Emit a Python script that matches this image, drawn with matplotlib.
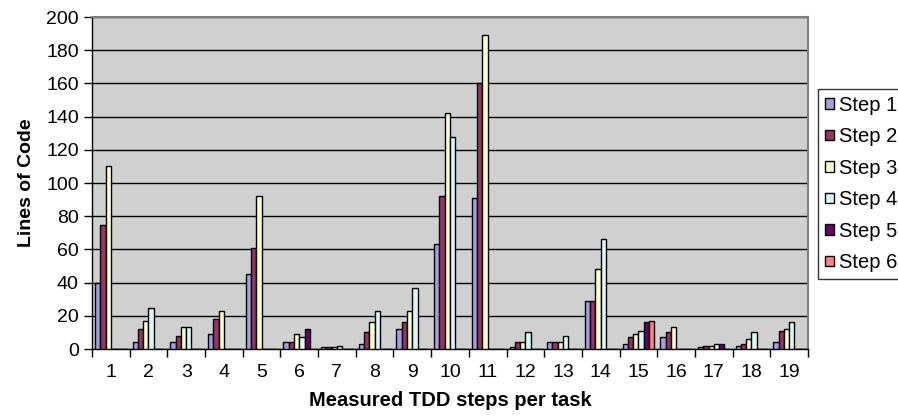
import numpy as np
import matplotlib
matplotlib.use("Agg")
from matplotlib import pyplot as plt

plt.rcParams["font.family"] = ["Liberation Sans", "DejaVu Sans"]

tasks = [str(i) for i in range(1, 20)]
series_names = ["Step 1", "Step 2", "Step 3", "Step 4", "Step 5", "Step 6"]

# values per step, one entry per task (0 = no bar)
step1 = [40, 4, 4, 9, 45, 4, 1, 3, 12, 63, 91, 1, 4, 29, 3, 7, 1, 2, 4]
step2 = [75, 12, 8, 18, 61, 4, 1, 10, 16, 92, 160, 4, 4, 29, 7, 10, 2, 3, 11]
step3 = [110, 17, 13, 23, 92, 9, 1, 16, 23, 142, 189, 4, 4, 48, 9, 13, 2, 6, 12]
step4 = [0, 25, 13, 0, 0, 7, 2, 23, 37, 128, 0, 10, 8, 66, 11, 0, 3, 10, 16]
step5 = [0, 0, 0, 0, 0, 12, 0, 0, 0, 0, 0, 0, 0, 0, 16, 0, 3, 0, 0]
step6 = [0, 0, 0, 0, 0, 0, 0, 0, 0, 0, 0, 0, 0, 0, 17, 0, 0, 0, 0]

colors = ["#A49FE3", "#993366", "#FFFFCC", "#DDF6FA", "#660066", "#FF8080"]

fig = plt.figure(figsize=(8.98, 4.2), dpi=100)
ax = fig.add_axes([0.1024, 0.169, 0.7974, 0.7905])
ax.set_facecolor("#D0D0D0")

x = np.arange(len(tasks))
width = 0.14
all_steps = [step1, step2, step3, step4, step5, step6]
handles = []
for i, (name, vals) in enumerate(zip(series_names, all_steps)):
    offs = (i - 2.5) * width
    h = ax.bar(x + offs, vals, width, color=colors[i], edgecolor="black",
               linewidth=1.0, label=name, zorder=3)
    handles.append(h)

ax.set_xlim(-0.5, len(tasks) - 0.5)
ax.set_ylim(0, 200)
ax.set_yticks(range(0, 201, 20))
ax.yaxis.grid(True, color="black", linewidth=1.0, zorder=0)
ax.set_axisbelow(True)

ax.set_xticks(x)
ax.set_xticklabels(tasks, fontsize=14)
ax.tick_params(axis="x", length=0, pad=11)
ax.set_xticks(np.arange(-0.5, len(tasks)), minor=True)
ax.tick_params(axis="x", which="minor", length=6, width=1, color="black")
ax.tick_params(axis="y", labelsize=14, length=6, width=1, direction="out")

for s in ["top", "right"]:
    ax.spines[s].set_color("#808080")
    ax.spines[s].set_linewidth(1.5)
for s in ["left", "bottom"]:
    ax.spines[s].set_color("black")
    ax.spines[s].set_linewidth(1.0)

ax.set_ylabel("Lines of Code", fontsize=14, fontweight="bold", labelpad=8)
ax.set_xlabel("Measured TDD steps per task", fontsize=14.5, fontweight="bold",
              labelpad=7)

leg = fig.legend(handles, series_names, loc="center left",
                 bbox_to_anchor=(818 / 898, 1 - 184 / 420), fontsize=14.5,
                 frameon=True, fancybox=False, handlelength=0.42,
                 handleheight=0.42, handletextpad=0.26, labelspacing=0.62,
                 borderpad=0.36, borderaxespad=0)
leg.get_frame().set_edgecolor("black")
leg.get_frame().set_linewidth(1.0)

fig.savefig("out.png", dpi=100)
